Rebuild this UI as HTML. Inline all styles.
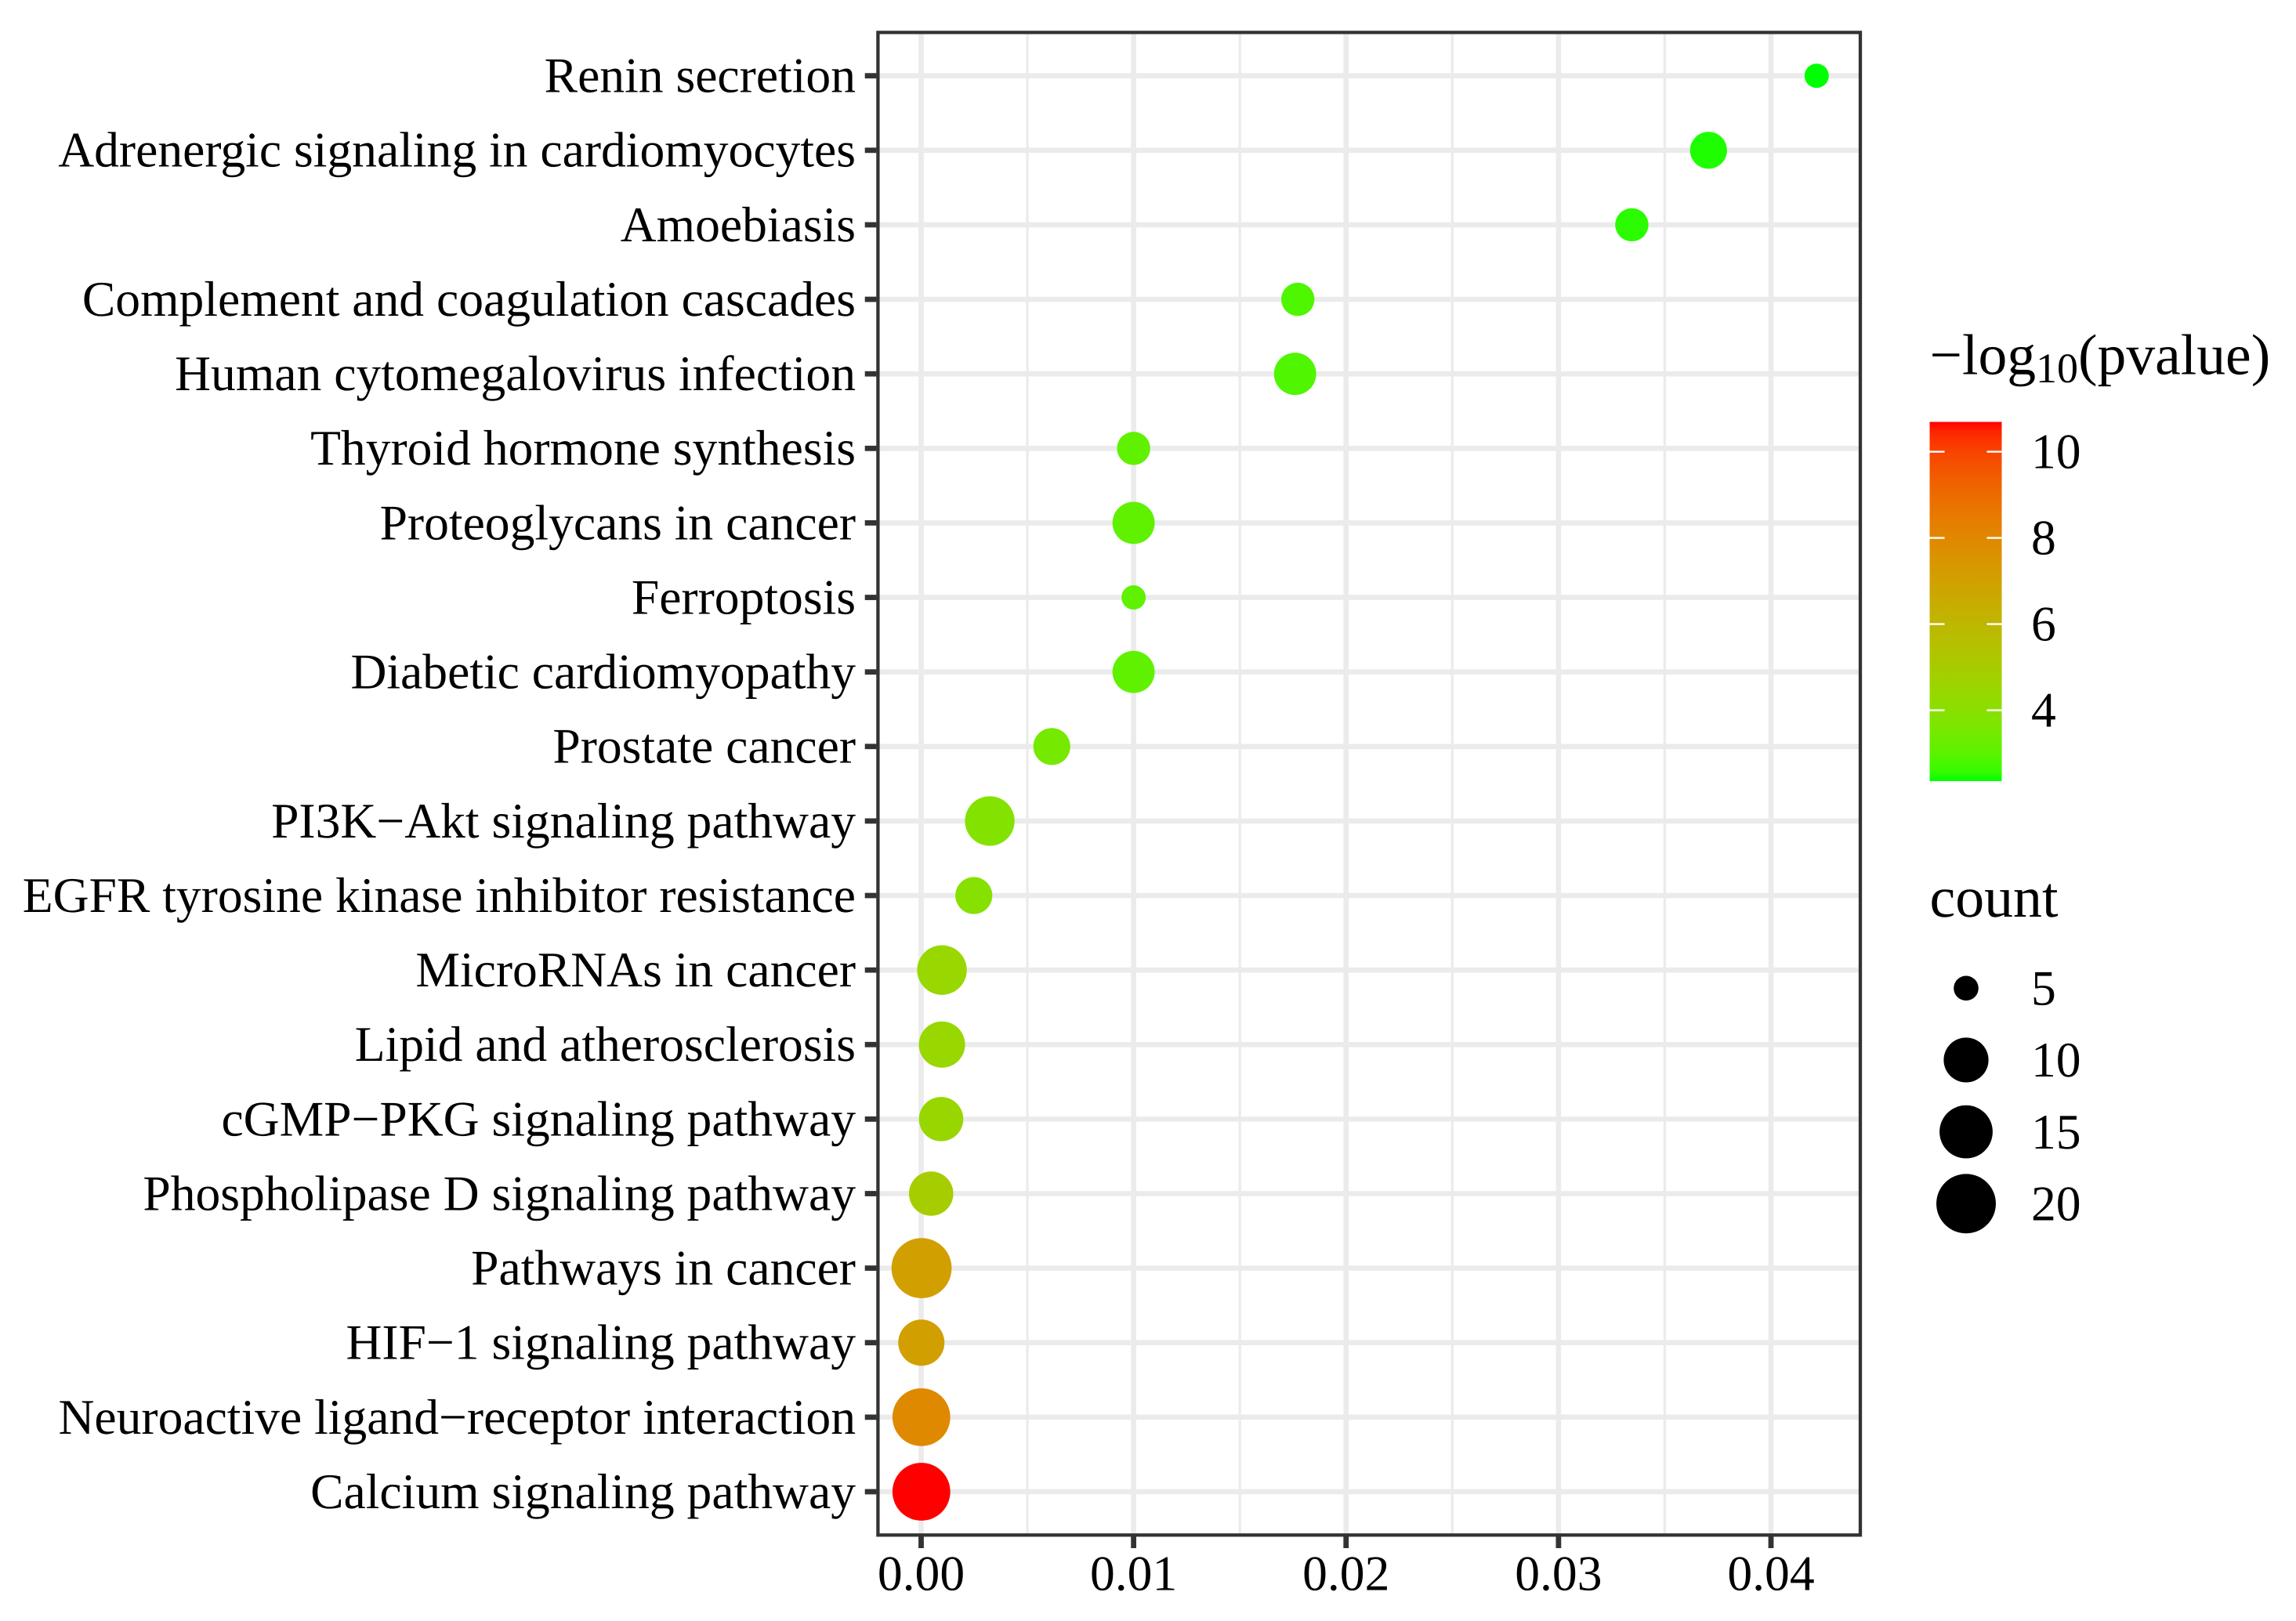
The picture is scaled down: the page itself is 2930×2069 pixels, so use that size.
<!DOCTYPE html>
<html lang="en">
<head>
<meta charset="utf-8">
<title>Pathway enrichment dot plot</title>
<style>
html,body{margin:0;padding:0;background:#fff;}
svg{display:block;}
text{font-family:"Liberation Serif",serif;fill:#000;text-rendering:geometricPrecision;}
</style>
</head>
<body>
<svg id="chart" xmlns="http://www.w3.org/2000/svg" width="2930" height="2069" viewBox="0 0 2930 2069">
  <defs>
    <linearGradient id="colorbar-gradient" x1="0" y1="1" x2="0" y2="0"></linearGradient>
    <clipPath id="panel-clip"><rect x="1120.4" y="41.4" width="1253.6" height="1917.9"></rect></clipPath>
  </defs>
  <rect x="0" y="0" width="2930" height="2069" fill="#ffffff"></rect>
  <g id="grid" clip-path="url(#panel-clip)"></g>
  <g id="points"></g>
  <rect x="1120.4" y="41.4" width="1253.6" height="1917.9" fill="none" stroke="#333333" stroke-width="4.3"></rect>
  <g id="y-axis"></g>
  <g id="x-axis"></g>
  <g id="color-legend">
    <text x="2462.5" y="477.5" font-size="73.6">−log<tspan font-size="54" dy="10.5">10</tspan><tspan font-size="73.6" dy="-10.5">(pvalue)</tspan></text>
    <rect x="2462.5" y="538.5" width="92" height="458.5" fill="url(#colorbar-gradient)"></rect>
  </g>
  <g id="size-legend">
    <text x="2462.5" y="1170" font-size="73.8">count</text>
  </g>
</svg>
<script>
const pathways = [
  "Renin secretion",
  "Adrenergic signaling in cardiomyocytes",
  "Amoebiasis",
  "Complement and coagulation cascades",
  "Human cytomegalovirus infection",
  "Thyroid hormone synthesis",
  "Proteoglycans in cancer",
  "Ferroptosis",
  "Diabetic cardiomyopathy",
  "Prostate cancer",
  "PI3K−Akt signaling pathway",
  "EGFR tyrosine kinase inhibitor resistance",
  "MicroRNAs in cancer",
  "Lipid and atherosclerosis",
  "cGMP−PKG signaling pathway",
  "Phospholipase D signaling pathway",
  "Pathways in cancer",
  "HIF−1 signaling pathway",
  "Neuroactive ligand−receptor interaction",
  "Calcium signaling pathway"
];
const pvalues = [0.04215, 0.03706, 0.03345, 0.01773, 0.0176, 0.0100, 0.0100, 0.0100, 0.0100, 0.00615, 0.00323, 0.00248, 0.00098, 0.00098, 0.00094, 0.00047, 0.00002, 0.00001, 0.00001, 0.00001];
const counts = [5, 7, 6, 6, 9, 6, 9, 5, 9, 7, 13, 7, 13, 11, 10, 10, 21, 11, 19, 19];
const logP = [2.36, 2.44, 2.51, 2.84, 2.86, 3.11, 3.11, 3.11, 3.11, 3.53, 3.86, 3.94, 4.44, 4.44, 4.46, 4.94, 7.03, 7.03, 7.94, 10.69];
const xMajorTicks = [0, 0.01, 0.02, 0.03, 0.04];
const xMinorTicks = [0.005, 0.015, 0.025, 0.035];
const xTickLabels = ["0.00", "0.01", "0.02", "0.03", "0.04"];
const colorTicks = [4, 6, 8, 10];
const sizeBreaks = [5, 10, 15, 20];

const SVG_NS = "http://www.w3.org/2000/svg";
const COLOR_MIN = 2.36, COLOR_MAX = 10.69;
const LOW_LAB = [87.74, -86.18, 83.18], HIGH_LAB = [53.24, 80.09, 67.2];

function xScale(v) { return 1175.5 + (v / 0.04) * 1084.5; }
function yScale(i) { return 96.7 + i * 95.12; }
function colorbarY(v) { return 576.6 + (10 - v) * 55; }
function radiusScale(c) { return 15.5 + 5.72 * Math.sqrt(Math.max(0, c - 5)); }
function sizeLegendY(i) { return 1261.3 + i * 91.67; }

function gammaEncode(u) {
  const k = Math.max(0, Math.min(1, u));
  const s = k <= 0.0031308 ? 12.92 * k : 1.055 * Math.pow(k, 1 / 2.4) - 0.055;
  return Math.round(255 * s);
}
function colorScale(v) {
  const t = Math.max(0, Math.min(1, (v - COLOR_MIN) / (COLOR_MAX - COLOR_MIN)));
  const L = LOW_LAB[0] + (HIGH_LAB[0] - LOW_LAB[0]) * t;
  const a = LOW_LAB[1] + (HIGH_LAB[1] - LOW_LAB[1]) * t;
  const b = LOW_LAB[2] + (HIGH_LAB[2] - LOW_LAB[2]) * t;
  const fy = (L + 16) / 116, fx = fy + a / 500, fz = fy - b / 200;
  const inv = function (f) { return f > 6 / 29 ? f * f * f : 3 * (6 / 29) * (6 / 29) * (f - 4 / 29); };
  const X = 0.95047 * inv(fx), Y = inv(fy), Z = 1.08883 * inv(fz);
  const r = 3.2406 * X - 1.5372 * Y - 0.4986 * Z;
  const g = -0.9689 * X + 1.8758 * Y + 0.0415 * Z;
  const bl = 0.0557 * X - 0.204 * Y + 1.057 * Z;
  return "rgb(" + gammaEncode(r) + "," + gammaEncode(g) + "," + gammaEncode(bl) + ")";
}
function make(tag, attrs, parent, content) {
  const el = document.createElementNS(SVG_NS, tag);
  Object.keys(attrs).forEach(function (k) { el.setAttribute(k, attrs[k]); });
  if (content !== undefined) el.textContent = content;
  parent.appendChild(el);
  return el;
}

const grid = document.getElementById("grid");
const pointsGroup = document.getElementById("points");
const yAxis = document.getElementById("y-axis");
const xAxis = document.getElementById("x-axis");
const colorLegend = document.getElementById("color-legend");
const sizeLegend = document.getElementById("size-legend");
const gradient = document.getElementById("colorbar-gradient");

xMinorTicks.forEach(function (v) {
  const line = make("line", { x1: xScale(v), x2: xScale(v), y1: 41, y2: 1960, stroke: "#ebebeb", "stroke-width": 3.3 }, grid);
  
  
});
xMajorTicks.forEach(function (v) {
  const line = make("line", { x1: xScale(v), x2: xScale(v), y1: 41, y2: 1960, stroke: "#ebebeb", "stroke-width": 6.6 }, grid);
  
  
});
pathways.forEach(function (name, i) {
  const line = make("line", { x1: 1120, x2: 2374, y1: yScale(i), y2: yScale(i), stroke: "#ebebeb", "stroke-width": 6.6 }, grid);
  
  
});

pathways.forEach(function (name, i) {
  const dot = make("circle", { cx: xScale(pvalues[i]), cy: yScale(i), r: radiusScale(counts[i]), fill: colorScale(logP[i]) }, pointsGroup);
  
  
  const tick = make("line", { x1: 1103.7, x2: 1118.4, y1: yScale(i), y2: yScale(i), stroke: "#333333", "stroke-width": 6.8 }, yAxis);
  
  
  const label = make("text", { x: 1092, y: yScale(i) + 20.9, "font-size": 63.6, "text-anchor": "end" }, yAxis, name);
  
  
});

xMajorTicks.forEach(function (v, i) {
  const tick = make("line", { x1: xScale(v), x2: xScale(v), y1: 1961, y2: 1976, stroke: "#333333", "stroke-width": 6.8 }, xAxis);
  
  
  const label = make("text", { x: xScale(v), y: 2029.3, "font-size": 63.6, "text-anchor": "middle" }, xAxis, xTickLabels[i]);
  
  
});

for (let s = 0; s <= 40; s++) {
  make("stop", { offset: (s / 40), "stop-color": colorScale(COLOR_MIN + (COLOR_MAX - COLOR_MIN) * s / 40) }, gradient);
}
colorTicks.forEach(function (v) {
  const y = colorbarY(v);
  const left = make("line", { x1: 2462.5, x2: 2481.5, y1: y, y2: y, stroke: "#ffffff", "stroke-width": 2.4 }, colorLegend);
  
  
  const right = make("line", { x1: 2535.5, x2: 2554.5, y1: y, y2: y, stroke: "#ffffff", "stroke-width": 2.4 }, colorLegend);
  
  
  const label = make("text", { x: 2592, y: y + 20.9, "font-size": 63.6 }, colorLegend, String(v));
  
  
});

sizeBreaks.forEach(function (c, i) {
  const key = make("circle", { cx: 2509, cy: sizeLegendY(i), r: radiusScale(c) + 0.3, fill: "#000000" }, sizeLegend);
  
  
  const label = make("text", { x: 2592, y: sizeLegendY(i) + 21.2, "font-size": 63.6 }, sizeLegend, String(c));
  
  
});
</script>
</body>
</html>
